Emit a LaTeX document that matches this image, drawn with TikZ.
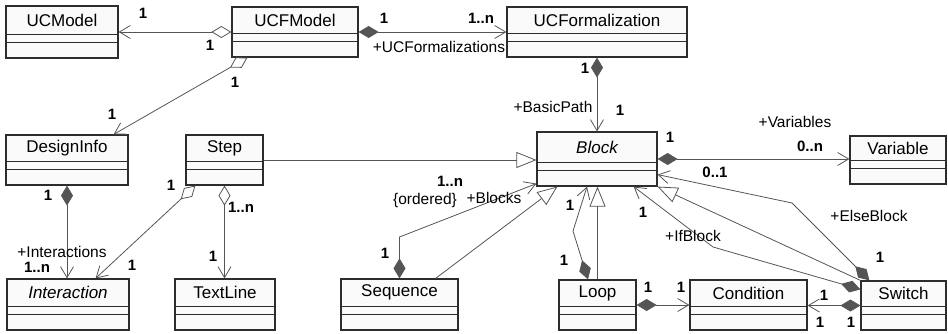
\documentclass[tikz,border=0pt]{standalone}
\usepackage{fontspec}
\setmainfont{Liberation Sans}
\usetikzlibrary{arrows.meta}
\definecolor{ln}{RGB}{85,85,85}
\definecolor{bx}{RGB}{45,45,45}
\definecolor{bxfill}{RGB}{250,250,250}
\tikzset{
  odia/.tip={Diamond[open,length=20pt,width=12pt]},
  fdia/.tip={Diamond[length=20pt,width=12pt]},
  openv/.tip={Straight Barb[length=11pt,width=13pt]},
  gentri/.tip={Triangle[fill=white,length=20pt,width=16pt]},
  classbox/.style={draw=bx, fill=bxfill, line width=1.2pt, inner sep=0pt, rectangle},
  classline/.style={draw=bx, line width=0.9pt},
  classname/.style={font=\fontsize{17}{20}\selectfont, inner sep=0pt, text=black},
  conn/.style={draw=ln, line width=0.8pt},
  lab/.style={font=\fontsize{15.5}{18}\selectfont, inner sep=0pt, text=black},
  mult/.style={font=\fontsize{15}{18}\selectfont\bfseries, inner sep=0pt, text=black},
}
\newcommand{\umlclass}[6]{%
  \node[classbox, minimum width=#4pt, minimum height=#5pt] (#1) at (#2,#3) {};
  \draw[classline] ([yshift=24pt]#1.south west) -- ([yshift=24pt]#1.south east);
  \draw[classline] ([yshift=16pt]#1.south west) -- ([yshift=16pt]#1.south east);
  \node[classname] (#1-t) at ([yshift=12pt]#1.center) {#6};
}
\begin{document}
\begin{tikzpicture}[x=1pt,y=-1pt]
\useasboundingbox (0,0) rectangle (948,333);
% classes
\umlclass{UCModel}{62}{32}{112}{52}{UCModel}
\umlclass{UCFModel}{295}{32}{126}{50}{UCFModel}
\umlclass{UCFormalization}{597}{32}{180}{50}{UCFormalization}
\umlclass{DesignInfo}{67}{160}{122}{50}{DesignInfo}
\umlclass{Step}{224.5}{160}{77}{50}{Step}
\umlclass{Block}{597}{159}{120}{54}{\itshape Block}
\umlclass{Variable}{898}{160}{96}{48}{Variable}
\umlclass{Interaction}{68}{304.5}{122}{51}{\itshape Interaction}
\umlclass{TextLine}{225}{304.5}{100}{51}{TextLine}
\umlclass{Sequence}{399.5}{304.5}{117}{51}{Sequence}
\umlclass{Loop}{597.5}{305}{77}{50}{Loop}
\umlclass{Condition}{748.5}{305}{117}{50}{Condition}
\umlclass{Switch}{903.5}{305.5}{85}{49}{Switch}
% bend points
\coordinate (seqb) at (399.5,237);
\coordinate (loopb) at (573,231);
\coordinate (ifb) at (713,247);
\coordinate (elseb) at (792,203);
% connectors
\draw[conn, odia-openv] (UCFModel.west) -- (UCModel.east);
\draw[conn, fdia-openv] (UCFModel.east) -- (UCFormalization.west);
\draw[conn, odia-openv] ([xshift=16pt]UCFModel.south west) -- ([xshift=-15pt]DesignInfo.north east);
\draw[conn, fdia-openv] (UCFormalization.south) -- (Block.north);
\draw[conn, -gentri] (Step.east) -- (Step.east -| Block.west);
\draw[conn, fdia-openv] (Block.east) -- (Block.east -| Variable.west);
\draw[conn, fdia-openv] (DesignInfo.south) -- (DesignInfo.south |- Interaction.north);
\draw[conn, odia-openv] ([xshift=10pt]Step.south west) -- ([xshift=-34pt]Interaction.north east);
\draw[conn, odia-openv] (Step.south) -- (Step.south |- TextLine.north);
\draw[conn, fdia-openv] (Sequence.north) -- (seqb) -- ([yshift=3pt]Block.south west);
\draw[conn, -gentri] ([xshift=-23pt]Sequence.north east) -- ([xshift=21pt]Block.south west);
\draw[conn, fdia-openv] ([xshift=-9.5pt]Loop.north) -- (loopb) -- ([xshift=-10pt]Block.south);
\draw[conn, -gentri] (Loop.north) -- (Loop.north |- Block.south);
\draw[conn, fdia-openv] ([yshift=-9pt]Switch.north west) -- (ifb) -- ([xshift=-24pt]Block.south east);
\draw[conn, -gentri] (Switch.north west) -- (Block.south east);
\draw[conn, fdia-openv] ([xshift=9pt]Switch.north west) -- (elseb) -- ([yshift=12pt]Block.south east);
\draw[conn, fdia-openv] (Loop.east) -- (Condition.west);
\draw[conn, fdia-openv] (Switch.west) -- (Switch.west -| Condition.east);
% labels
\node[mult] (m1) at (143,13) {1};
\node[mult] (m2) at (210,45) {1};
\node[mult] (m3) at (384,18) {1};
\node[mult] (m4) at (481,18) {1..n};
\node[lab] (l1) at (439,47) {+UCFormalizations};
\node[mult] (m5) at (235,82) {1};
\node[mult] (m6) at (112,114) {1};
\node[mult] (m7) at (585,68) {1};
\node[lab] (l2) at (553,107) {+BasicPath};
\node[mult] (m8) at (620,110) {1};
\node[mult] (m9) at (670,137) {1};
\node[lab] (l3) at (795,122) {+Variables};
\node[mult] (m10) at (810,146) {0..n};
\node[mult] (m11) at (715,172) {0..1};
\node[mult] (m12) at (48,195) {1};
\node[lab] (l4) at (62,252) {+Interactions};
\node[mult] (m13) at (37,267) {1..n};
\node[mult] (m14) at (171,185) {1};
\node[mult] (m15) at (132,265) {1};
\node[mult] (m16) at (241,207) {1..n};
\node[mult] (m17) at (213,256) {1};
\node[mult] (m18) at (450,181) {1..n};
\node[lab] (l5) at (425,200) {\{ordered\}};
\node[lab] (l6) at (494,198) {+Blocks};
\node[mult] (m19) at (385,253) {1};
\node[mult] (m20) at (570,205) {1};
\node[mult] (m21) at (564,260) {1};
\node[mult] (m22) at (643,212) {1};
\node[lab] (l7) at (693,236) {+IfBlock};
\node[lab] (l8) at (869,216) {+ElseBlock};
\node[mult] (m23) at (880,257) {1};
\node[mult] (m24) at (648,287) {1};
\node[mult] (m25) at (681,287) {1};
\node[mult] (m26) at (824,295) {1};
\node[mult] (m27) at (820,322) {1};
\node[mult] (m28) at (851,322) {1};
\end{tikzpicture}
\end{document}
